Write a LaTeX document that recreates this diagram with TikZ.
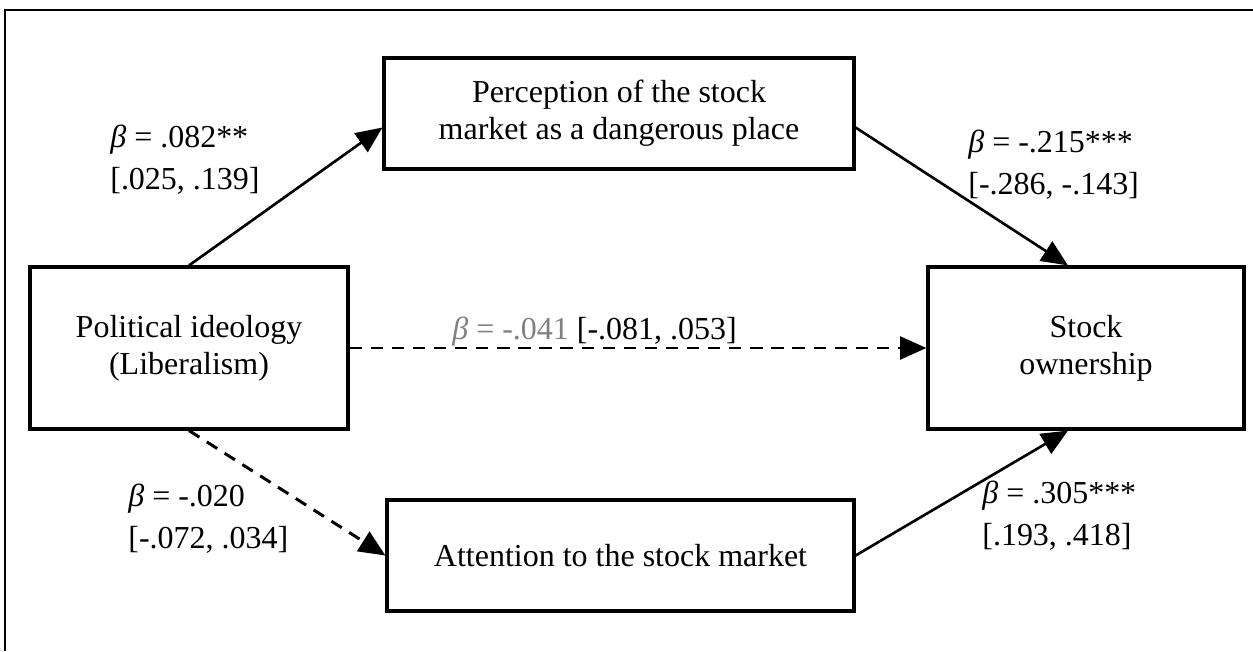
\documentclass[tikz,border=0pt]{standalone}
\usepackage{fontspec}
\setmainfont{Liberation Serif}
\usetikzlibrary{positioning, arrows.meta, calc}

\begin{document}
\begin{tikzpicture}[font=\fontsize{18.2pt}{21pt}\selectfont,
      kotak/.style={draw, line width=1.8pt, align=center, inner sep=3pt},
      koef/.style={align=left, anchor=west, inner sep=0pt, font=\fontsize{18.2pt}{24pt}\selectfont},
      panah/.style={-{Triangle[length=15pt, width=13pt]}, line width=1.5pt},
      putus/.style={panah, line width=1.7pt, dash pattern=on 7pt off 5pt}]
      \useasboundingbox (0,0) rectangle (25.06,-13.02);
      % bingkai luar
      \draw[line width=1.2pt] (0.1,-13.02) -- (0.1,-0.2) -- (25.06,-0.2);

      % kotak variabel
      \node[kotak, minimum width=6.36cm, minimum height=3.24cm] (lib) at (3.78,-6.96) {Political ideology\\ (Liberalism)};
      \node[kotak, minimum width=9.4cm, minimum height=2.22cm] (danger) at (12.38,-2.27) {Perception of the stock\\ market as a dangerous place};
      \node[kotak, minimum width=9.34cm, minimum height=2.22cm] (attn) at (12.41,-11.11) {Attention to the stock market};
      \node[kotak, minimum width=6.32cm, minimum height=3.24cm] (own) at (21.72,-6.96) {Stock\\ ownership};

      % jalur
      \draw[panah] (lib.north) -- ([yshift=-0.28cm]danger.west);
      \draw[panah] ([yshift=-0.28cm]danger.east) -- ([xshift=-0.36cm]own.north);
      \draw[putus] (lib.east) -- (own.west);
      \draw[putus] (lib.south) -- (attn.west);
      \draw[panah] (attn.east) -- ([xshift=-0.36cm]own.south);

      % koefisien
      \node[koef] (b_a) at (2.2,-3.2) {{\itshape β} = .082**\\{}[.025, .139]};
      \node[koef] (b_b) at (19.36,-3.3) {{\itshape β} = -.215***\\{}[-.286, -.143]};
      \node[koef] (b_c) at (9.04,-6.64) {\textcolor{gray}{{\itshape β} = -.041} [-.081, .053]};
      \node[koef] (b_d) at (2.56,-10.38) {{\itshape β} = -.020\\{}[-.072, .034]};
      \node[koef] (b_e) at (19.64,-10.31) {{\itshape β} = .305***\\{}[.193, .418]};
    \end{tikzpicture}
\end{document}
